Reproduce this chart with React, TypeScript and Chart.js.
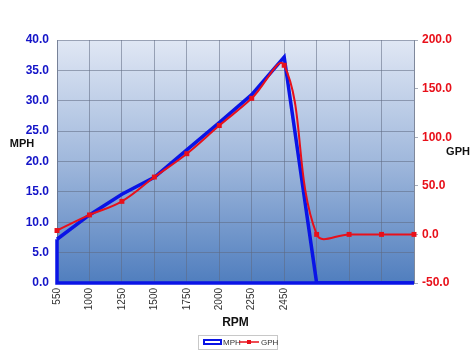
import React, { useEffect, useRef } from "react";
import { Chart, registerables } from "chart.js";

Chart.register(...registerables);

const RPM_LABELS = ["550", "1000", "1250", "1500", "1750", "2000", "2250", "2450", "", "", "", ""];
const MPH_VALUES = [7.2, 11.2, 14.6, 17.4, 21.9, 26.4, 31.0, 37.2, 0, 0, 0, 0];
const GPH_VALUES = [4, 20, 34, 59, 83, 112, 140, 174, 0, 0, 0, 0];
const MPH_TICKS = { min: 0, max: 40, step: 5 };
const GPH_TICKS = { min: -50, max: 200, step: 50 };

const BLUE = "#0a14e6";
const RED = "#e8101a";
const FONT = "'Liberation Sans', Arial, sans-serif";

const bgPlugin = {
  id: "bgPlugin",
  beforeDraw(chart: any) {
    const { ctx, chartArea: a } = chart;
    ctx.save();
    ctx.fillStyle = "#ffffff";
    ctx.fillRect(0, 0, chart.width, chart.height);
    const g = ctx.createLinearGradient(0, a.top, 0, a.bottom);
    g.addColorStop(0, "rgb(224,231,244)");
    g.addColorStop(0.5, "rgb(160,184,220)");
    g.addColorStop(1, "rgb(80,126,190)");
    ctx.fillStyle = g;
    ctx.fillRect(a.left, a.top, a.right - a.left, a.bottom - a.top);
    ctx.restore();
  },
};

const areaEdgePlugin = {
  id: "areaEdgePlugin",
  beforeDatasetsDraw(chart: any) {
    const meta = chart.getDatasetMeta(0);
    const pts = meta.data;
    if (!pts.length) return;
    const y0 = chart.scales.y.getPixelForValue(0);
    const first = pts[0];
    const last = pts[pts.length - 1];
    const { ctx } = chart;
    ctx.save();
    ctx.strokeStyle = BLUE;
    ctx.lineWidth = 3.5;
    ctx.lineJoin = "miter";
    ctx.beginPath();
    ctx.moveTo(first.x, first.y);
    ctx.lineTo(first.x, y0);
    ctx.lineTo(last.x, y0);
    ctx.lineTo(last.x, last.y);
    ctx.stroke();
    ctx.restore();
  },
};

const textPlugin = {
  id: "textPlugin",
  afterDraw(chart: any) {
    const { ctx, chartArea: a } = chart;
    ctx.save();
    ctx.fillStyle = "#111111";
    ctx.font = `bold 11px ${FONT}`;
    ctx.textAlign = "center";
    ctx.textBaseline = "middle";
    ctx.fillText("MPH", 22, 144);
    ctx.fillText("GPH", 458, 152);
    ctx.font = `bold 12px ${FONT}`;
    ctx.fillText("RPM", (a.left + a.right) / 2, 323);

    // legend
    const lx = 198, ly = 335, lw = 79, lh = 14;
    ctx.fillStyle = "#ffffff";
    ctx.fillRect(lx, ly, lw, lh);
    ctx.strokeStyle = "#c8c8c8";
    ctx.lineWidth = 1;
    ctx.strokeRect(lx + 0.5, ly + 0.5, lw, lh);
    ctx.strokeStyle = BLUE;
    ctx.lineWidth = 2;
    ctx.strokeRect(204, 340, 17, 4);
    ctx.fillStyle = "#333333";
    ctx.font = `8px ${FONT}`;
    ctx.textAlign = "left";
    ctx.fillText("MPH", 223, 342.5);
    ctx.strokeStyle = RED;
    ctx.lineWidth = 1.5;
    ctx.beginPath();
    ctx.moveTo(239, 342);
    ctx.lineTo(259, 342);
    ctx.stroke();
    ctx.fillStyle = RED;
    ctx.fillRect(247, 340, 4, 4);
    ctx.fillStyle = "#333333";
    ctx.fillText("GPH", 261, 342.5);
    ctx.restore();
  },
};

export default function App() {
  const ref = useRef<HTMLCanvasElement | null>(null);
  useEffect(() => {
    if (!ref.current) return;
    const gridColor = "rgba(95,105,130,0.55)";
    const chart = new Chart(ref.current, {
      type: "line",
      data: {
        labels: RPM_LABELS,
        datasets: [
          {
            label: "MPH",
            data: MPH_VALUES,
            yAxisID: "y",
            borderColor: BLUE,
            backgroundColor: BLUE,
            borderWidth: 3.5,
            pointRadius: 0,
            tension: 0,
            fill: false,
            order: 2,
          },
          {
            label: "GPH",
            data: GPH_VALUES,
            yAxisID: "y1",
            borderColor: RED,
            backgroundColor: RED,
            borderWidth: 2,
            pointStyle: "rect",
            pointRadius: 3.5,
            pointBorderWidth: 0,
            tension: 0.4,
            fill: false,
            order: 1,
          },
        ],
      },
      options: {
        responsive: false,
        animation: false,
        layout: { padding: { top: 40, left: 0, right: 0, bottom: 0 } },
        plugins: { legend: { display: false }, tooltip: { enabled: false } },
        scales: {
          x: {
            offset: false,
            grid: { color: gridColor, drawTicks: false },
            border: { color: gridColor },
            ticks: {
              autoSkip: false,
              maxRotation: 90,
              minRotation: 90,
              padding: 5,
              color: "#333333",
              font: { family: FONT, size: 10 },
            },
            afterFit: (s: any) => {
              s.height = 72;
            },
          },
          y: {
            position: "left",
            min: MPH_TICKS.min,
            max: MPH_TICKS.max,
            grid: { color: gridColor, drawTicks: false },
            border: { color: gridColor },
            ticks: {
              stepSize: MPH_TICKS.step,
              padding: 8,
              color: "#1414c8",
              font: { family: FONT, size: 12, weight: "bold" },
              callback: (v: any) => Number(v).toFixed(1),
            },
            afterFit: (s: any) => {
              s.width = 57;
            },
          },
          y1: {
            position: "right",
            min: GPH_TICKS.min,
            max: GPH_TICKS.max,
            grid: { drawOnChartArea: false, color: gridColor, tickLength: 4 },
            border: { color: gridColor },
            ticks: {
              stepSize: GPH_TICKS.step,
              padding: 4,
              color: RED,
              font: { family: FONT, size: 12, weight: "bold" },
              callback: (v: any) => Number(v).toFixed(1),
            },
            afterFit: (s: any) => {
              s.width = 60;
            },
          },
        },
      },
      plugins: [bgPlugin, areaEdgePlugin, textPlugin],
    } as any);
    return () => chart.destroy();
  }, []);
  return (
    <div style={{ position: "absolute", left: 0, top: 0, width: 474, height: 355 }}>
      <canvas ref={ref} width={474} height={355} style={{ display: "block" }} />
    </div>
  );
}
